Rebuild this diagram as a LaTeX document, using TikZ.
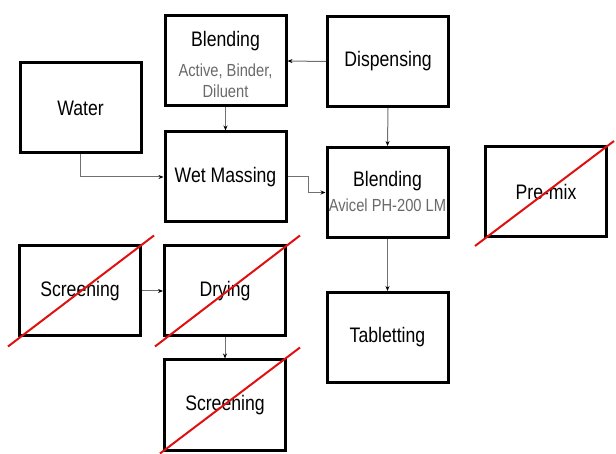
\documentclass[tikz,border=0pt]{standalone}
\usepackage{fontspec}
\setmainfont{Liberation Sans}[FakeStretch=0.84]
\usetikzlibrary{arrows.meta,calc}

\newcommand{\mainfs}{\fontsize{21}{24}\selectfont}
\newcommand{\subfs}{\fontsize{17.5}{21}\selectfont}
\definecolor{subgray}{HTML}{6A6A6A}
\definecolor{linkgray}{HTML}{707070}
\definecolor{crossred}{HTML}{E01010}

\tikzset{
  box/.style={draw=black, line width=3pt, fill=white,
    minimum width=121pt, minimum height=90pt, inner sep=0pt,
    align=center, font=\mainfs},
  title/.style={anchor=base, inner sep=0pt, font=\mainfs},
  detail/.style={anchor=base, inner sep=0pt, font=\subfs, text=subgray},
  link/.style={draw=linkgray, line width=1pt,
    -{Stealth[length=5pt,width=4pt,black]}},
  cross/.style={draw=crossred, line width=2pt},
}

\begin{document}
\begin{tikzpicture}[x=1pt,y=-1pt]
\useasboundingbox (0,0) rectangle (616,454);

% process boxes
\node[box] (blend1) at (225.5,61) {};
\node[box] (disp)   at (388,61.5) {Dispensing};
\node[box] (water)  at (80.5,108) {Water};
\node[box] (wet)    at (225.5,177) {Wet Massing};
\node[box] (blend2) at (387.5,192.5) {};
\node[box] (premix) at (546,191.5) {Pre-mix};
\node[box] (scr1)   at (80,291) {Screening};
\node[box] (dry)    at (225,291) {Drying};
\node[box] (scr2)   at (225,405) {Screening};
\node[box] (tab)    at (387.5,337.5) {Tabletting};

% labels of the two blending steps
\node[title]  (b1t) at (225.5,47) {Blending};
\node[detail] (b1a) at (225.5,77) {Active, Binder,};
\node[detail] (b1b) at (225.5,97.5) {Diluent};
\node[title]  (b2t) at (387.5,187) {Blending};
\node[detail] (b2a) at (387.5,212) {Avicel PH-200 LM};

% flow connectors
\draw[link] (disp.west) -- (blend1.east);
\draw[link] (disp.south) -- (blend2.north);
\draw[link] (blend1.south) -- (wet.north);
\draw[link] (water.south) |- (wet.west);
\draw[link] (wet.east) -- ++(21,0) |- (blend2.west);
\draw[link] (blend2.south) -- (tab.north);
\draw[link] (scr1.east) -- (dry.west);
\draw[link] (dry.south) -- (scr2.north);

% struck-out steps
\draw[cross] ($(scr1.south west)+(-10,9)$) -- ($(scr1.north east)+(12,-9)$);
\draw[cross] ($(dry.south west)+(-8,9)$) -- ($(dry.north east)+(13,-9)$);
\draw[cross] ($(scr2.south west)+(-3,2)$) -- ($(scr2.north east)+(13,-11)$);
\draw[cross] ($(premix.south west)+(-9,8)$) -- ($(premix.north east)+(6,-4)$);
\end{tikzpicture}
\end{document}
